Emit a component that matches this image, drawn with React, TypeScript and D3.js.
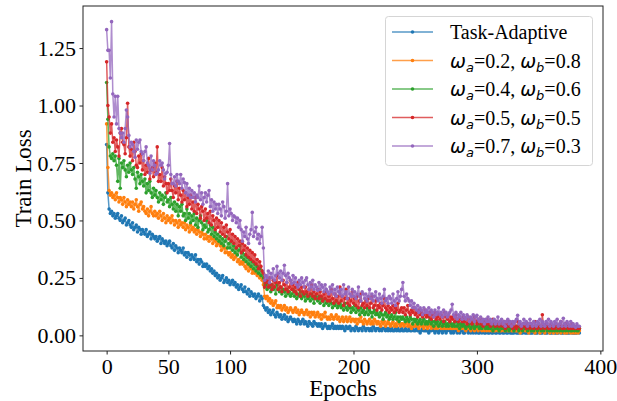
import React, { useEffect, useRef } from 'react'
import * as d3 from 'd3'

// Train loss per epoch (0..383)
const taskAdaptive = [
  .83, .62, .55, .53, .54, .52, .53, .51, .52, .53,
  .51, .50, .52, .49, .50, .51, .48, .49, .50, .48,
  .47, .49, .46, .47, .48, .45, .47, .46, .44, .46,
  .45, .44, .46, .43, .44, .45, .42, .44, .43, .42,
  .43, .41, .42, .43, .40, .42, .41, .40, .41, .39,
  .40, .41, .39, .38, .40, .37, .39, .38, .36, .38,
  .37, .36, .38, .35, .36, .34, .36, .35, .33, .35,
  .34, .33, .35, .32, .33, .31, .33, .32, .30, .31,
  .30, .31, .29, .30, .28, .29, .27, .28, .26, .27,
  .25, .26, .24, .25, .26, .23, .24, .25, .23, .24,
  .22, .23, .24, .22, .23, .21, .22, .20, .21, .22,
  .20, .19, .21, .19, .18, .20, .17, .19, .18, .17,
  .18, .16, .17, .18, .15, .17, .16, .13, .12, .11,
  .12, .10, .11, .09, .10, .11, .09, .08, .10, .09,
  .08, .09, .07, .08, .09, .07, .08, .06, .07, .08,
  .07, .06, .07, .06, .05, .07, .06, .05, .06, .07,
  .05, .06, .05, .04, .06, .05, .05, .04, .06, .05,
  .05, .04, .05, .04, .05, .03, .04, .05, .04, .03,
  .04, .03, .04, .05, .03, .04, .03, .04, .03, .04,
  .03, .04, .03, .02, .04, .03, .03, .04, .02, .03,
  .03, .02, .04, .03, .02, .03, .03, .02, .04, .03,
  .02, .03, .03, .02, .03, .02, .04, .03, .02, .03,
  .03, .02, .03, .02, .03, .03, .02, .03, .02, .03,
  .02, .03, .02, .02, .03, .02, .03, .02, .02, .03,
  .02, .02, .03, .02, .02, .03, .02, .02, .03, .02,
  .02, .03, .02, .02, .01, .02, .03, .02, .02, .02,
  .02, .01, .02, .02, .03, .02, .01, .02, .02, .01,
  .02, .02, .01, .02, .02, .01, .02, .03, .02, .01,
  .02, .01, .02, .02, .01, .02, .01, .02, .02, .01,
  .01, .02, .02, .01, .02, .01, .02, .01, .02, .01,
  .02, .01, .01, .02, .01, .02, .01, .01, .02, .01,
  .01, .02, .01, .01, .02, .01, .01, .02, .01, .01,
  .02, .01, .01, .02, .01, .01, .02, .01, .01, .01,
  .01, .02, .01, .01, .01, .02, .01, .01, .02, .01,
  .01, .01, .02, .01, .01, .01, .02, .01, .01, .01,
  .02, .01, .01, .01, .02, .01, .01, .01, .02, .01,
  .01, .01, .02, .01, .01, .01, .01, .02, .01, .01,
  .01, .02, .01, .01, .01, .01, .02, .01, .01, .01,
  .01, .01, .02, .01
]

const w28 = [
  .92, .73, .63, .61, .62, .60, .61, .59, .62, .60,
  .58, .60, .59, .57, .60, .58, .56, .59, .57, .58,
  .56, .58, .55, .57, .59, .56, .54, .57, .58, .55,
  .56, .54, .53, .55, .52, .54, .56, .53, .52, .54,
  .52, .53, .51, .54, .52, .50, .53, .51, .49, .52,
  .50, .51, .49, .52, .50, .48, .50, .49, .47, .50,
  .48, .49, .47, .49, .46, .48, .47, .45, .48, .46,
  .47, .45, .46, .44, .46, .45, .43, .45, .44, .42,
  .44, .42, .43, .41, .43, .42, .40, .42, .41, .39,
  .40, .41, .39, .37, .39, .38, .36, .38, .36, .35,
  .36, .34, .35, .33, .34, .35, .32, .33, .31, .32,
  .31, .32, .30, .29, .31, .28, .30, .29, .27, .28,
  .27, .28, .26, .27, .25, .26, .24, .22, .17, .16,
  .17, .15, .16, .14, .15, .13, .14, .15, .12, .13,
  .12, .13, .11, .12, .13, .11, .12, .10, .11, .12,
  .11, .10, .11, .12, .10, .11, .09, .10, .11, .10,
  .09, .10, .11, .09, .10, .08, .10, .09, .10, .08,
  .09, .10, .08, .09, .07, .09, .08, .10, .08, .07,
  .08, .07, .09, .08, .07, .08, .09, .07, .08, .06,
  .07, .08, .06, .07, .08, .06, .07, .08, .06, .07,
  .07, .06, .07, .05, .07, .06, .08, .06, .05, .07,
  .06, .05, .06, .07, .05, .06, .05, .07, .06, .05,
  .06, .05, .04, .06, .05, .06, .04, .05, .06, .05,
  .04, .05, .06, .04, .05, .04, .06, .05, .04, .05,
  .05, .04, .05, .06, .04, .05, .04, .03, .05, .04,
  .04, .05, .04, .03, .05, .04, .04, .03, .05, .04,
  .03, .04, .05, .03, .04, .04, .03, .05, .03, .04,
  .04, .03, .04, .03, .05, .03, .04, .03, .04, .03,
  .03, .04, .03, .04, .03, .02, .04, .03, .03, .04,
  .03, .02, .04, .03, .03, .02, .03, .04, .02, .03,
  .03, .02, .03, .03, .02, .04, .02, .03, .02, .03,
  .02, .03, .02, .03, .02, .02, .03, .02, .03, .02,
  .02, .03, .02, .02, .03, .02, .02, .03, .02, .02,
  .03, .02, .02, .02, .03, .01, .02, .02, .03, .02,
  .02, .02, .01, .03, .02, .02, .02, .01, .02, .03,
  .02, .01, .02, .02, .02, .01, .03, .02, .02, .01,
  .02, .02, .01, .02, .02, .01, .02, .02, .01, .02,
  .02, .01, .02, .01, .02, .02, .01, .02, .01, .02,
  .01, .02, .01, .02
]

const w46 = [
  1.10, .94, .82, .78, .77, .79, .76, .78, .74, .67,
  .77, .64, .75, .73, .76, .72, .69, .74, .71, .75,
  .72, .70, .73, .68, .64, .71, .69, .66, .70, .67,
  .65, .68, .62, .66, .63, .67, .62, .60, .64, .61,
  .63, .60, .58, .62, .59, .61, .57, .60, .62, .58,
  .59, .56, .60, .57, .55, .58, .54, .57, .52, .56,
  .54, .57, .52, .53, .50, .55, .51, .53, .49, .52,
  .50, .53, .48, .51, .47, .50, .52, .49, .46, .48,
  .47, .50, .45, .46, .48, .44, .47, .43, .45, .42,
  .44, .41, .43, .40, .42, .39, .41, .43, .38, .40,
  .38, .41, .37, .39, .36, .38, .35, .37, .39, .34,
  .36, .33, .35, .32, .34, .31, .33, .30, .32, .29,
  .31, .28, .30, .27, .29, .26, .28, .25, .21, .22,
  .20, .23, .21, .19, .22, .20, .21, .18, .22, .20,
  .19, .21, .18, .20, .19, .17, .20, .18, .19, .17,
  .18, .20, .17, .19, .16, .18, .17, .19, .16, .18,
  .17, .15, .18, .16, .17, .15, .18, .16, .14, .17,
  .16, .15, .17, .14, .16, .15, .13, .16, .14, .15,
  .13, .15, .14, .12, .14, .13, .15, .12, .13, .14,
  .12, .13, .11, .14, .12, .11, .13, .12, .10, .12,
  .11, .13, .10, .12, .11, .09, .12, .10, .11, .09,
  .10, .12, .09, .11, .10, .08, .10, .11, .09, .10,
  .09, .08, .10, .09, .07, .09, .10, .08, .09, .07,
  .08, .09, .07, .08, .10, .07, .08, .06, .08, .07,
  .08, .07, .06, .08, .07, .06, .08, .07, .05, .07,
  .06, .07, .05, .06, .07, .05, .06, .07, .05, .06,
  .05, .06, .07, .05, .06, .04, .06, .05, .06, .04,
  .05, .06, .04, .05, .06, .04, .05, .04, .06, .05,
  .04, .05, .04, .06, .04, .05, .03, .05, .04, .05,
  .04, .03, .05, .04, .05, .03, .04, .05, .03, .04,
  .04, .05, .03, .04, .03, .05, .04, .03, .04, .03,
  .04, .03, .04, .02, .04, .03, .04, .03, .02, .04,
  .03, .04, .03, .02, .03, .04, .02, .03, .04, .03,
  .02, .03, .04, .03, .02, .03, .03, .02, .04, .03,
  .03, .02, .03, .04, .02, .03, .02, .03, .03, .02,
  .03, .04, .02, .03, .02, .03, .03, .02, .03, .02,
  .03, .02, .03, .02, .04, .02, .03, .02, .03, .02,
  .02, .03, .02, .03, .02, .03, .02, .02, .03, .02,
  .03, .02, .02, .03
]

const w55 = [
  1.19, 1.00, .95, .88, .92, .84, .86, .80, .85, .82,
  .78, .88, .90, .84, .83, .79, .86, 1.01, .82, .78,
  .81, .76, .84, .80, .74, .73, .78, .75, .79, .72,
  .76, .70, .74, .71, .77, .68, .72, .73, .69, .75,
  .71, .82, .67, .70, .67, .73, .65, .69, .66, .62,
  .66, .63, .68, .63, .60, .65, .62, .67, .59, .64,
  .61, .58, .63, .59, .62, .56, .60, .57, .61, .55,
  .58, .54, .60, .53, .57, .55, .51, .56, .54, .50,
  .55, .51, .53, .49, .54, .48, .52, .50, .46, .51,
  .47, .50, .45, .49, .44, .47, .43, .48, .45, .42,
  .46, .41, .44, .40, .43, .38, .42, .39, .41, .36,
  .40, .37, .39, .35, .38, .34, .37, .33, .36, .32,
  .35, .31, .33, .29, .32, .30, .28, .27, .21, .23,
  .24, .21, .25, .22, .20, .24, .21, .23, .26, .20,
  .23, .21, .19, .24, .22, .20, .23, .19, .21, .24,
  .20, .22, .19, .21, .18, .23, .20, .17, .21, .19,
  .18, .21, .19, .17, .20, .18, .22, .17, .19, .16,
  .18, .20, .16, .19, .17, .15, .18, .16, .19, .15,
  .17, .15, .20, .16, .14, .18, .15, .17, .14, .21,
  .15, .17, .13, .16, .20, .14, .16, .13, .15, .19,
  .14, .16, .13, .17, .12, .15, .18, .13, .14, .12,
  .15, .13, .16, .12, .14, .17, .12, .13, .15, .11,
  .13, .12, .14, .11, .13, .16, .12, .11, .13, .10,
  .12, .11, .13, .10, .12, .11, .14, .10, .11, .12,
  .10, .12, .09, .11, .13, .10, .09, .11, .10, .12,
  .09, .10, .08, .11, .09, .10, .08, .09, .11, .08,
  .09, .08, .10, .07, .09, .08, .10, .07, .08, .09,
  .07, .09, .08, .06, .10, .08, .07, .09, .06, .08,
  .07, .08, .06, .09, .07, .06, .08, .07, .06, .08,
  .06, .07, .05, .08, .06, .07, .05, .06, .08, .06,
  .05, .07, .06, .05, .07, .04, .06, .05, .07, .05,
  .06, .04, .05, .07, .05, .04, .06, .05, .04, .06,
  .05, .04, .06, .03, .05, .04, .06, .04, .05, .03,
  .05, .04, .03, .06, .04, .05, .03, .04, .05, .04,
  .03, .05, .04, .03, .05, .04, .03, .06, .04, .03,
  .05, .04, .03, .09, .04, .03, .05, .04, .03, .04,
  .05, .03, .04, .03, .05, .04, .03, .04, .06, .03,
  .04, .03, .05, .04, .03, .04, .03, .05, .03, .04,
  .03, .04, .03, .03
]

const w73 = [
  1.33, 1.24, 1.24, 1.12, 1.365, 1.05, .95, 1.04, .92, 1.04,
  .90, .88, .86, .88, .84, .90, .98, .95, .87, .82,
  .84, .83, .80, .775, .85, .81, .84, .85, .80, .79,
  .76, .80, .82, .75, .74, .705, .78, .72, .76, .74,
  .70, .705, .72, .76, .74, .75, .72, .68, .705, .71,
  .74, .835, .70, .66, .66, .69, .65, .70, .67, .66,
  .70, .64, .68, .665, .62, .66, .61, .64, .60, .63,
  .60, .62, .58, .61, .60, .65, .59, .62, .57, .60,
  .62, .58, .61, .63, .56, .59, .54, .58, .55, .57,
  .53, .57, .55, .52, .58, .56, .51, .54, .66, .52,
  .55, .53, .50, .52, .515, .49, .51, .47, .50, .46,
  .41, .45, .43, .47, .42, .40, .44, .46, .535, .43,
  .45, .47, .42, .44, .40, .43, .47, .38, .24, .26,
  .25, .28, .23, .27, .25, .29, .24, .26, .30, .27,
  .25, .28, .24, .27, .305, .26, .23, .27, .25, .24,
  .225, .26, .23, .25, .22, .21, .24, .22, .25, .23,
  .21, .24, .25, .22, .20, .23, .21, .24, .20, .22,
  .21, .196, .23, .20, .22, .21, .19, .22, .20, .19,
  .18, .21, .19, .22, .18, .20, .17, .21, .19, .18,
  .20, .17, .22, .18, .19, .16, .21, .18, .17, .20,
  .17, .19, .16, .18, .21, .17, .15, .19, .18, .16,
  .18, .15, .17, .20, .16, .18, .15, .17, .19, .16,
  .15, .18, .16, .14, .17, .20, .15, .16, .14, .17,
  .16, .14, .18, .15, .13, .16, .19, .15, .17, .20,
  .23, .17, .15, .18, .16, .15, .13, .15, .12, .14,
  .12, .11, .13, .10, .12, .11, .09, .12, .10, .11,
  .10, .12, .09, .11, .10, .08, .11, .09, .10, .12,
  .09, .10, .08, .11, .09, .10, .08, .09, .10, .11,
  .135, .09, .08, .10, .07, .09, .08, .10, .07, .09,
  .08, .07, .09, .08, .06, .08, .07, .09, .06, .08,
  .087, .07, .06, .08, .06, .07, .05, .07, .06, .08,
  .06, .07, .05, .06, .07, .05, .06, .08, .05, .06,
  .07, .05, .06, .04, .06, .07, .05, .06, .04, .06,
  .05, .06, .07, .087, .05, .06, .04, .05, .07, .05,
  .06, .04, .05, .07, .05, .04, .06, .05, .04, .06,
  .05, .07, .04, .06, .05, .04, .06, .05, .07, .04,
  .06, .05, .04, .06, .05, .07, .04, .05, .06, .04,
  .074, .05, .04, .06, .05, .04, .06, .04, .05, .04,
  .035, .05, .04, .04
]

const seriesData = [taskAdaptive, w28, w46, w55, w73]
const colors = ['#1f77b4', '#ff7f0e', '#2ca02c', '#d62728', '#9467bd']
const omegaA = [null, '0.2', '0.4', '0.5', '0.7']
const omegaB = [null, '0.8', '0.6', '0.5', '0.3']
const xTicks = [0, 50, 100, 200, 300, 400]
const yTicks = [0, 0.25, 0.5, 0.75, 1.0, 1.25]

export default function App() {
  const ref = useRef<SVGSVGElement>(null)

  useEffect(() => {
    const width = 617
    const height = 401
    const left = 83, right = 603, top = 6, bottom = 351
    const serif = "'Liberation Serif', 'Times New Roman', serif"

    const svg = d3.select(ref.current)
    svg.selectAll('*').remove()
    svg.attr('width', width).attr('height', height)

    const n = taskAdaptive.length
    const xScale = d3.scaleLinear()
      .domain([-0.05 * (n - 1), 1.05 * (n - 1)])
      .range([left, right])
    const yScale = d3.scaleLinear()
      .domain([-0.068, 1.433])
      .range([bottom, top])

    svg.append('rect')
      .attr('width', width).attr('height', height).attr('fill', '#fff')

    svg.append('clipPath').attr('id', 'plot-clip')
      .append('rect')
      .attr('x', left).attr('y', top)
      .attr('width', right - left).attr('height', bottom - top)

    const plot = svg.append('g').attr('clip-path', 'url(#plot-clip)')

    const line = d3.line<number>()
      .x((d, i) => xScale(i))
      .y(d => yScale(d))

    seriesData.forEach((values, k) => {
      const g = plot.append('g')
      g.append('path')
        .datum(values)
        .attr('d', line)
        .attr('fill', 'none')
        .attr('stroke', colors[k])
        .attr('stroke-width', 1.5)
        .attr('stroke-opacity', 0.75)
        .attr('stroke-linejoin', 'round')
      g.selectAll('circle')
        .data(values)
        .enter()
        .append('circle')
        .attr('cx', (d, i) => xScale(i))
        .attr('cy', d => yScale(d))
        .attr('r', 1.8)
        .attr('fill', colors[k])
    })

    // Frame
    svg.append('rect')
      .attr('x', left).attr('y', top)
      .attr('width', right - left).attr('height', bottom - top)
      .attr('fill', 'none')
      .attr('stroke', '#222')
      .attr('stroke-width', 1)

    // X axis
    const xAxis = svg.append('g')
      .attr('transform', `translate(0,${bottom})`)
      .call(d3.axisBottom(xScale).tickValues(xTicks).tickFormat(d3.format('d')).tickSize(3.5).tickPadding(3.5))
    xAxis.select('.domain').remove()
    xAxis.selectAll('line').attr('stroke', '#222')
    xAxis.selectAll('text')
      .attr('font-family', serif)
      .attr('font-size', 22)
      .attr('fill', '#000')

    // Y axis
    const yAxis = svg.append('g')
      .attr('transform', `translate(${left},0)`)
      .call(d3.axisLeft(yScale).tickValues(yTicks).tickFormat(d3.format('.2f')).tickSize(3.5).tickPadding(3.5))
    yAxis.select('.domain').remove()
    yAxis.selectAll('line').attr('stroke', '#222')
    yAxis.selectAll('text')
      .attr('font-family', serif)
      .attr('font-size', 22)
      .attr('fill', '#000')

    // Axis titles
    svg.append('text')
      .text('Epochs')
      .attr('x', (left + right) / 2)
      .attr('y', 396)
      .attr('text-anchor', 'middle')
      .attr('font-family', serif)
      .attr('font-size', 23)

    svg.append('text')
      .text('Train Loss')
      .attr('transform', `translate(31,${(top + bottom) / 2}) rotate(-90)`)
      .attr('text-anchor', 'middle')
      .attr('font-family', serif)
      .attr('font-size', 23)

    // Legend
    const legend = svg.append('g')
    legend.append('rect')
      .attr('x', 385.5).attr('y', 16.5)
      .attr('width', 207).attr('height', 149)
      .attr('rx', 3)
      .attr('fill', '#fff').attr('fill-opacity', 0.8)
      .attr('stroke', '#d5d5d5')

    seriesData.forEach((values, k) => {
      const ry = 32 + k * 28.5
      legend.append('line')
        .attr('x1', 392).attr('x2', 433)
        .attr('y1', ry).attr('y2', ry)
        .attr('stroke', colors[k])
        .attr('stroke-width', 1.5)
        .attr('stroke-opacity', 0.75)
      legend.append('circle')
        .attr('cx', 412.5).attr('cy', ry).attr('r', 1.8)
        .attr('fill', colors[k])

      const label = legend.append('text')
        .attr('x', 450).attr('y', ry + 7)
        .attr('font-family', serif)
        .attr('font-size', 20)
        .attr('fill', '#000')

      if (omegaA[k] === null) {
        label.text('Task-Adaptive')
        return
      }
      const omega = (sub: string) => {
        label.append('tspan')
          .text('ω')
          .attr('font-family', "'DejaVu Sans', sans-serif")
          .attr('font-style', 'italic')
          .attr('font-size', 19)
        label.append('tspan')
          .text(sub)
          .attr('font-family', "'DejaVu Sans', sans-serif")
          .attr('font-style', 'italic')
          .attr('font-size', 13)
          .attr('dy', 4)
      }
      omega('a')
      label.append('tspan').text(`=${omegaA[k]}, `).attr('dy', -4)
      omega('b')
      label.append('tspan').text(`=${omegaB[k]}`).attr('dy', -4)
    })
  }, [])

  return (
    <svg ref={ref} style={{ position: 'absolute', left: 0, top: 0, display: 'block' }} />
  )
}
